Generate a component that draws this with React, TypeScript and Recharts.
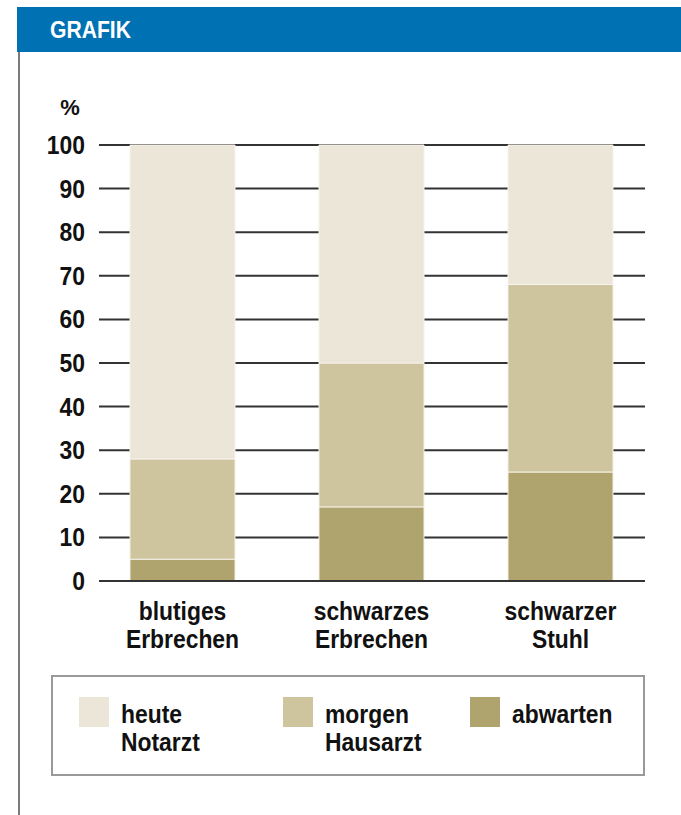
import React from 'react';
import { BarChart, Bar, XAxis, YAxis, CartesianGrid, ReferenceLine, Legend } from 'recharts';

// Kategorien (zweizeilig beschriftet)
const categories: string[][] = [
  ['blutiges', 'Erbrechen'],
  ['schwarzes', 'Erbrechen'],
  ['schwarzer', 'Stuhl'],
];

// Anteile in Prozent, von unten nach oben gestapelt
const abwarten = [5, 17, 25];
const morgenHausarzt = [23, 33, 43];
const heuteNotarzt = [72, 50, 32];

const yTicks = [0, 10, 20, 30, 40, 50, 60, 70, 80, 90, 100];

// Legendenreihenfolge und Beschriftung
const legendOrder = ['heute', 'morgen', 'abwarten'] as const;
const seriesLabels: Record<string, string[]> = {
  heute: ['heute', 'Notarzt'],
  morgen: ['morgen', 'Hausarzt'],
  abwarten: ['abwarten'],
};

const colors = {
  heute: '#ECE6D9',
  morgen: '#CEC59F',
  abwarten: '#AFA46E',
};

const data = categories.map((c, i) => ({
  name: c.join('\n'),
  abwarten: abwarten[i],
  morgen: morgenHausarzt[i],
  heute: heuteNotarzt[i],
}));

const FONT = "'Liberation Sans', Arial, sans-serif";
const SQUEEZE = 0.88; // schmale Schrift nachbilden

const XTick = (props: any) => {
  const { x, y, payload } = props;
  const lines = String(payload.value).split('\n');
  return (
    <text
      transform={`translate(${x},${y}) scale(${SQUEEZE},1)`}
      x={0}
      y={0}
      textAnchor="middle"
      fontFamily={FONT}
      fontWeight={700}
      fontSize={26}
      fill="#111"
    >
      {lines.map((l, i) => (
        <tspan key={i} x={0} dy={i === 0 ? 33 : 28}>
          {l}
        </tspan>
      ))}
    </text>
  );
};

const YTick = (props: any) => {
  const { x, y, payload } = props;
  return (
    <text
      transform={`translate(${x},${y}) scale(${SQUEEZE},1)`}
      x={0}
      y={0}
      dy={9}
      textAnchor="end"
      fontFamily={FONT}
      fontWeight={700}
      fontSize={26}
      fill="#111"
    >
      {payload.value}
    </text>
  );
};

const gridLine = (p: any) => (
  <line
    key={`g-${p.index ?? p.y1}`}
    x1={p.x1 + 11}
    x2={p.x2 - 10}
    y1={p.y1}
    y2={p.y2}
    stroke="#333"
    strokeWidth={2}
  />
);

const baseLine = (p: any) => (
  <line x1={p.x1 + 11} x2={p.x2 - 10} y1={p.y1} y2={p.y2} stroke="#333" strokeWidth={2} />
);

const textStyle: React.CSSProperties = {
  fontFamily: FONT,
  fontWeight: 700,
  fontSize: 26,
  lineHeight: '28px',
  color: '#111',
  textAlign: 'left',
  transform: `scaleX(${SQUEEZE})`,
  transformOrigin: 'left top',
  whiteSpace: 'nowrap',
};

const LegendBox = (props: any) => {
  const payload: any[] = props.payload || [];
  const lefts = [26, 230, 417];
  return (
    <div
      style={{
        position: 'relative',
        width: 594,
        height: 101,
        border: '2px solid #9a9a9a',
        boxSizing: 'border-box',
        background: '#fff',
      }}
    >
      {legendOrder.map((key, i) => {
        const item = payload.find((p) => p.dataKey === key);
        const color = item ? item.color : colors[key];
        return (
          <div key={key} style={{ position: 'absolute', left: lefts[i], top: 20, display: 'flex' }}>
            <div style={{ width: 30, height: 30, background: color, flex: 'none' }} />
            <div style={{ marginLeft: 12, marginTop: 3, ...textStyle }}>
              {seriesLabels[key].map((t) => (
                <div key={t}>{t}</div>
              ))}
            </div>
          </div>
        );
      })}
    </div>
  );
};

export default function App() {
  return (
    <div style={{ position: 'absolute', left: 0, top: 0, width: 681, height: 815, background: '#fff', overflow: 'hidden' }}>
      <div
        style={{
          position: 'absolute',
          left: 17,
          top: 7,
          width: 664,
          height: 45,
          background: '#0071B3',
        }}
      >
        <div
          style={{
            position: 'absolute',
            left: 33,
            top: 9,
            ...textStyle,
            color: '#fff',
            fontSize: 24,
          }}
        >
          GRAFIK
        </div>
      </div>
      <div style={{ position: 'absolute', left: 18, top: 52, width: 2, height: 763, background: '#7a7a7a' }} />
      <div style={{ position: 'absolute', left: 0, top: 0 }}>
        <BarChart
          width={681}
          height={815}
          data={data}
          margin={{ top: 145, right: 26, bottom: 174, left: 0 }}
          barSize={105}
        >
          <CartesianGrid vertical={false} horizontal={gridLine} />
          <XAxis
            dataKey="name"
            height={60}
            axisLine={false}
            tickLine={false}
            tickMargin={0}
            tick={<XTick />}
            interval={0}
          />
          <YAxis
            width={88}
            domain={[0, 100]}
            ticks={yTicks}
            interval={0}
            axisLine={false}
            tickLine={false}
            tickSize={0}
            tickMargin={3}
            tick={<YTick />}
            label={{
              value: '%',
              content: (lp: any) => (
                <text
                  x={lp.viewBox.x + lp.viewBox.width - 18}
                  y={lp.viewBox.y - 30}
                  textAnchor="middle"
                  fontFamily={FONT}
                  fontWeight={700}
                  fontSize={22}
                  fill="#111"
                >
                  %
                </text>
              ),
            }}
          />
          <Bar dataKey="abwarten" name="abwarten" stackId="a" fill={colors.abwarten} stroke="#F3F0E6" strokeWidth={1} isAnimationActive={false} />
          <Bar dataKey="morgen" name="morgen Hausarzt" stackId="a" fill={colors.morgen} stroke="#F3F0E6" strokeWidth={1} isAnimationActive={false} />
          <Bar dataKey="heute" name="heute Notarzt" stackId="a" fill={colors.heute} stroke="#F6F3EC" strokeWidth={1} isAnimationActive={false} />
          <ReferenceLine y={0} shape={baseLine} />
          <Legend
            layout="vertical"
            align="center"
            verticalAlign="middle"
            wrapperStyle={{ position: 'absolute', left: 51, top: 675, width: 594, height: 101 }}
            content={<LegendBox />}
          />
        </BarChart>
      </div>
    </div>
  );
}
